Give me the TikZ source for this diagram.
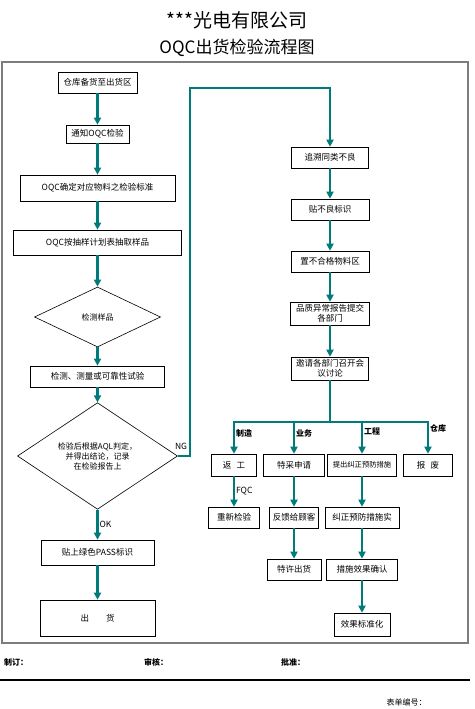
\documentclass[tikz,border=0pt]{standalone}
\usepackage{fontspec}
\setmainfont{Noto Sans CJK SC}
\usetikzlibrary{shapes.geometric,arrows.meta}
\definecolor{flowteal}{RGB}{0,122,122}
\definecolor{framegray}{RGB}{125,125,125}

\begin{document}
\begin{tikzpicture}[x=1pt, y=-1pt,
  box/.style={draw, line width=0.6pt, inner sep=1pt, align=center,
    font=\fontsize{8.5}{10}\selectfont},
  dia/.style={draw, diamond, line width=0.6pt, inner sep=0pt, align=center,
    font=\fontsize{8}{10}\selectfont},
  flow/.style={draw=flowteal, line width=2.2pt,
    -{Triangle[length=7pt,width=7pt]}},
  lbl/.style={font=\fontsize{8}{9}\bfseries\selectfont, inner sep=1pt}]
\useasboundingbox (0,0) rectangle (474,709);

% heading
\node (T0) at (237,20) {\fontsize{19}{21}\selectfont ***光电有限公司};
\node (T1h) at (237,48) {\fontsize{17}{19}\selectfont OQC出货检验流程图};
\draw[framegray, line width=1.6pt] (2,62) rectangle (468,643);

% left column
\node[box, minimum width=79pt, minimum height=21pt] (L1) at (97.5,82.5) {仓库备货至出货区};
\node[box, minimum width=63pt, minimum height=18pt] (L2) at (97.5,134) {通知OQC检验};
\node[box, minimum width=155pt, minimum height=26pt] (L3) at (97.5,188) {OQC确定对应物料之检验标准};
\node[box, minimum width=168pt, minimum height=25pt] (L4) at (97.5,242.5) {OQC按抽样计划表抽取样品};
\node[dia, minimum width=126pt, minimum height=60pt] (Q1) at (97.5,317) {检测样品};
\node[box, minimum width=134pt, minimum height=21pt] (L5) at (97.5,376.5) {检测、测量或可靠性试验};
\node[dia, minimum width=160pt, minimum height=98pt] (Q2) at (97.5,456) {检验后根据AQL判定，\\并得出结论，记录\\在检验报告上};
\node[box, minimum width=113pt, minimum height=25pt] (L6) at (97.5,552.5) {贴上绿色PASS标识};
\node[box, minimum width=115pt, minimum height=36pt] (L7) at (97.5,618) {出\hspace{2em}货};

\draw[flow] (L1) -- (L2);
\draw[flow] (L2) -- (L3);
\draw[flow] (L3) -- (L4);
\draw[flow] (L4) -- (Q1);
\draw[flow] (Q1) -- (L5);
\draw[flow] (L5) -- (Q2);
\draw[flow] (Q2) -- (L6) node[midway, right, lbl, font=\fontsize{8.5}{9}\selectfont]{OK};
\draw[flow] (L6) -- (L7);

% NG branch
\coordinate (ngA) at (190,88);
\node[lbl, font=\fontsize{8.5}{9}\selectfont] (ng) at (181,446) {NG};

% right column
\node[box, minimum width=77pt, minimum height=21pt] (R1) at (330,157.5) {追溯同类不良};
\node[box, minimum width=78pt, minimum height=21pt] (R2) at (330,209.5) {贴不良标识};
\node[box, minimum width=78pt, minimum height=21pt] (R3) at (330,261.5) {置不合格物料区};
\node[box, minimum width=79pt, minimum height=23pt] (R4) at (330,313.5) {品质异常报告提交\\各部门};
\node[box, minimum width=77pt, minimum height=23pt] (R5) at (330,368.5) {邀请各部门召开会\\议讨论};

\draw[flow] (Q2.east) -| (ngA) -| (R1.north);
\draw[flow] (R1) -- (R2);
\draw[flow] (R2) -- (R3);
\draw[flow] (R3) -- (R4);
\draw[flow] (R4) -- (R5);

% departments
\coordinate (br) at (330,422);
\node[box, minimum width=45pt, minimum height=22pt] (S1) at (234,465) {返\hspace{0.6em}工};
\node[box, minimum width=61pt, minimum height=22pt] (S2) at (294,465) {特采申请};
\node[box, minimum width=69pt, minimum height=22pt, font=\fontsize{7.3}{9}\selectfont] (S3) at (362,465) {提出纠正预防措施};
\node[box, minimum width=49pt, minimum height=22pt] (S4) at (428,465) {报\hspace{0.6em}废};

\draw[flowteal, line width=2.2pt] (R5.south) -- (br);
\draw[flow] (br) -| (S1.north) node[pos=0.68, right, lbl]{制造};
\draw[flow] (br) -| (S2.north) node[pos=0.68, right, lbl]{业务};
\draw[flow] (br) -| (S3.north) node[pos=0.65, right, lbl]{工程};
\draw[flow] (br) -| (S4.north) node[pos=0.6, right, lbl]{仓库};

\node[box, minimum width=51pt, minimum height=21pt] (T1) at (234,517.5) {重新检验};
\node[box, minimum width=49pt, minimum height=21pt] (T2) at (294,517.5) {反馈给顾客};
\node[box, minimum width=74pt, minimum height=21pt] (T3) at (362,517.5) {纠正预防措施实};
\node[box, minimum width=54pt, minimum height=21pt] (U2) at (294,569.5) {特许出货};
\node[box, minimum width=71pt, minimum height=21pt] (U3) at (362,569.5) {措施效果确认};
\node[box, minimum width=56pt, minimum height=23pt] (V3) at (362,624.5) {效果标准化};

\draw[flow] (S1) -- (T1) node[midway, right, lbl, font=\fontsize{8.5}{9}\selectfont]{FQC};
\draw[flow] (S2) -- (T2);
\draw[flow] (S3) -- (T3);
\draw[flow] (T2) -- (U2);
\draw[flow] (T3) -- (U3);
\draw[flow] (U3) -- (V3);

% footer
\node[lbl, anchor=west] (F1) at (3,662) {制订：};
\node[lbl, anchor=west] (F2) at (143,662) {审核：};
\node[lbl, anchor=west] (F3) at (280,662) {批准：};
\draw[line width=1.6pt] (0,680) -- (470,680);
\node[anchor=west, font=\fontsize{8}{9}\selectfont] (F4) at (383,702) {表单编号：};
\end{tikzpicture}
\end{document}
